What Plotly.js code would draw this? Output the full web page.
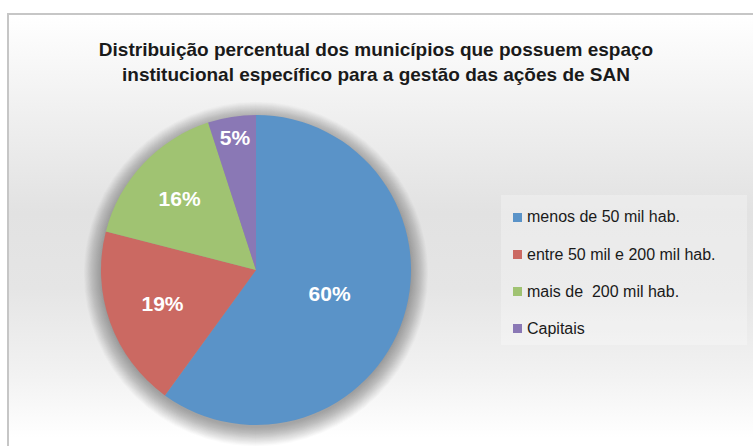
<!DOCTYPE html>
<html>
<head>
<meta charset="utf-8">
<script src="https://cdn.plot.ly/plotly-3.0.1.min.js"></script>
<style>
  html, body { margin: 0; padding: 0; background: #ffffff; }
  #frame {
    position: absolute; left: 7px; top: 13px; width: 760px; height: 440px;
    border-left: 2px solid #c6c6c6; border-top: 2px solid #c6c6c6;
    background: linear-gradient(to bottom, #ffffff 0%, #f0f0f0 22%, #e2e2e2 45%, #e5e5e5 62%, #f2f2f2 82%, #ffffff 96%);
  }
  #chart { position: absolute; left: 0; top: 0; width: 753px; height: 446px; }
</style>
</head>
<body>
<div id="frame"></div>
<div id="chart"></div>
<script>
const categories = ["menos de 50 mil hab.", "entre 50 mil e 200 mil hab.", "mais de  200 mil hab.", "Capitais"];
const percentValues = [60, 19, 16, 5];
const sliceColors = ["#5a93c8", "#cb6962", "#a0c372", "#8a78b5"];

const W = 753, H = 446;
const FONT = "'Liberation Sans', Arial, sans-serif";
const PIE_CX = 256, PIE_CY = 270, PIE_R = 155;

const trace = {
  type: "pie",
  labels: categories,
  values: percentValues,
  sort: false,
  direction: "clockwise",
  rotation: 0,
  marker: { colors: sliceColors, line: { width: 0 } },
  texttemplate: "%{value}%",
  textposition: "inside",
  insidetextorientation: "horizontal",
  textfont: { family: FONT, size: 21, color: "#ffffff", weight: "bold" },
  hoverinfo: "label+percent",
  showlegend: false,
  domain: { x: [(PIE_CX - PIE_R) / W, (PIE_CX + PIE_R) / W], y: [(H - PIE_CY - PIE_R) / H, (H - PIE_CY + PIE_R) / H] }
};

const annotations = [];
const shapes = [];

// soft shadow under the pie: many stacked faint discs (decoration only)
for (let k = 24; k >= 1; k--) {
  const r = PIE_R - 2 + k * 0.8;
  const cy = PIE_CY + 4;
  shapes.push({
    type: "circle", xref: "paper", yref: "paper", layer: "below",
    x0: (PIE_CX - r) / W, x1: (PIE_CX + r) / W,
    y0: (H - cy - r) / H, y1: (H - cy + r) / H,
    fillcolor: "rgba(0,0,0,0.016)", line: { width: 0 }
  });
}

// legend box
shapes.push({
  type: "rect", xref: "paper", yref: "paper", layer: "below",
  x0: 501 / W, x1: 747 / W, y0: (H - 345) / H, y1: (H - 195) / H,
  fillcolor: "rgba(255,255,255,0.28)", line: { width: 0 }
});

const legendX = 525, legendTop = 217, legendStep = 37;
categories.forEach((c, i) => {
  const yc = legendTop + i * legendStep;
  annotations.push({
    xref: "paper", yref: "paper", x: legendX / W, y: (H - yc) / H,
    xanchor: "left", yanchor: "middle", showarrow: false,
    text: c, font: { family: FONT, size: 16, color: "#1a1a1a" }
  });
  shapes.push({
    type: "rect", xref: "paper", yref: "paper",
    x0: 513 / W, x1: 522 / W, y0: (H - yc - 5) / H, y1: (H - yc + 4) / H,
    fillcolor: sliceColors[i], line: { width: 0 }
  });
});

const layout = {
  width: W, height: H,
  margin: { l: 0, r: 0, t: 0, b: 0 },
  paper_bgcolor: "rgba(0,0,0,0)",
  plot_bgcolor: "rgba(0,0,0,0)",
  showlegend: false,
  title: {
    text: "Distribuição percentual dos municípios que possuem espaço<br>institucional específico para a gestão das ações de SAN",
    font: { family: FONT, size: 19, color: "#1a1a1a", weight: "bold" },
    x: 376 / W, xanchor: "center", xref: "paper",
    y: (H - 56) / H, yanchor: "middle", yref: "container"
  },
  annotations: annotations,
  shapes: shapes
};

Plotly.newPlot("chart", [trace], layout, { displayModeBar: false, staticPlot: true });
</script>
</body>
</html>
